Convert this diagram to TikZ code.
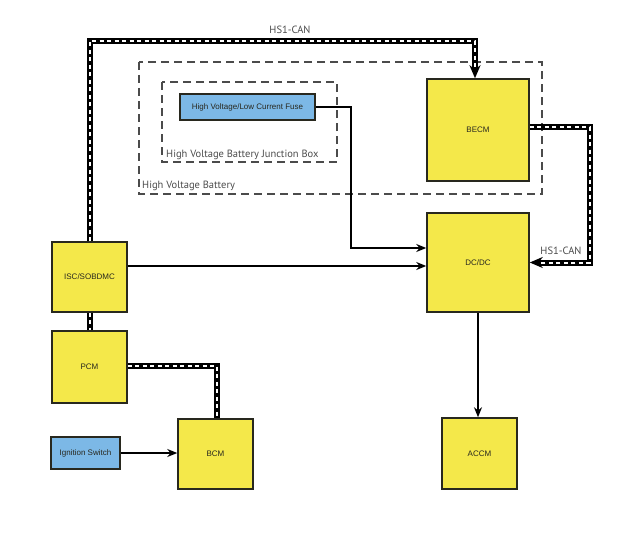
\documentclass[tikz,border=0pt]{standalone}
\usepackage{fontspec}
\setmainfont{Liberation Sans}
\newfontfamily\labelfont{PT Sans}
\usetikzlibrary{arrows.meta}
\definecolor{ecuyellow}{RGB}{244,232,74}
\definecolor{swblue}{RGB}{124,184,230}
\definecolor{frame}{RGB}{40,40,30}
\definecolor{zonegray}{RGB}{75,75,75}
\begin{document}
\begin{tikzpicture}[x=1pt,y=-1pt,
  ecu/.style={draw=frame,line width=1.5pt,fill=ecuyellow,text=frame,font=\fontsize{8}{9}\selectfont,inner sep=0pt},
  sw/.style={draw=frame,line width=1.5pt,fill=swblue,text=frame,font=\fontsize{8}{9}\selectfont,inner sep=0pt},
  zone/.style={draw=zonegray,line width=2pt,dash pattern=on 8pt off 5pt},
  lbl/.style={text=zonegray,font=\labelfont\fontsize{10.5}{12}\selectfont,inner sep=0pt},
  can/.style={line width=6pt,line join=miter,postaction={draw=white,line width=2pt,dash pattern=on 4pt off 3.5pt,arrows=-,shorten >=#1}},
  can/.default=0pt,
  wire/.style={line width=2pt,-{Stealth[length=10pt,width=8pt]}}]
  \useasboundingbox (0,0) rectangle (640,551);
  % battery frames
  \draw[zone] (139,62) rectangle (542,194);
  \draw[zone] (162,82) rectangle (337,162);
  \node[lbl,anchor=west] (hvblbl) at (142,186) {High Voltage Battery};
  \node[lbl,anchor=west] (jbxlbl) at (166,155) {High Voltage Battery Junction Box};
  % modules
  \node[sw,minimum width=135pt,minimum height=26pt] (fuse) at (247.5,107) {High Voltage/Low Current Fuse};
  \node[ecu,minimum width=102pt,minimum height=102pt] (becm) at (478,130) {BECM};
  \node[ecu,minimum width=102pt,minimum height=99pt] (dcdc) at (478,262.5) {DC/DC};
  \node[ecu,minimum width=75pt,minimum height=70pt] (isc) at (89.5,277) {ISC/SOBDMC};
  \node[ecu,minimum width=75pt,minimum height=72pt] (pcm) at (89.5,367) {PCM};
  \node[ecu,minimum width=75pt,minimum height=70pt] (bcm) at (215.5,454) {BCM};
  \node[ecu,minimum width=75pt,minimum height=71pt] (accm) at (479.5,453.5) {ACCM};
  \node[sw,minimum width=69pt,minimum height=32pt] (ign) at (85.5,453) {Ignition Switch};
  % HS1-CAN
  \draw[can=10pt,-{Stealth[length=13pt,width=11pt]}] (isc.north) -- ++(0,-200) -| ([xshift=-3pt]becm.north);
  \draw[can=10pt,-{Stealth[length=13pt,width=11pt]}] ([yshift=3pt]becm.east) -- ++(60,0) |- (dcdc.east);
  \draw[can] (isc.south) -- (pcm.north);
  \draw[can] ([yshift=1pt]pcm.east) -| ([xshift=1.5pt]bcm.north);
  \node[lbl] (canlbl) at (290,30) {HS1-CAN};
  \node[lbl] (canlbl2) at (561,251) {HS1-CAN};
  % wires
  \draw[wire] (fuse.east) -- ++(35,0) |- ([yshift=14.5pt]dcdc.west);
  \draw[wire] ([yshift=11pt]isc.east) -- ([yshift=11pt]isc.east -| dcdc.west);
  \draw[wire] (ign.east) -- (ign.east -| bcm.west);
  \draw[wire] (dcdc.south) -- (dcdc.south |- accm.north);
\end{tikzpicture}
\end{document}
